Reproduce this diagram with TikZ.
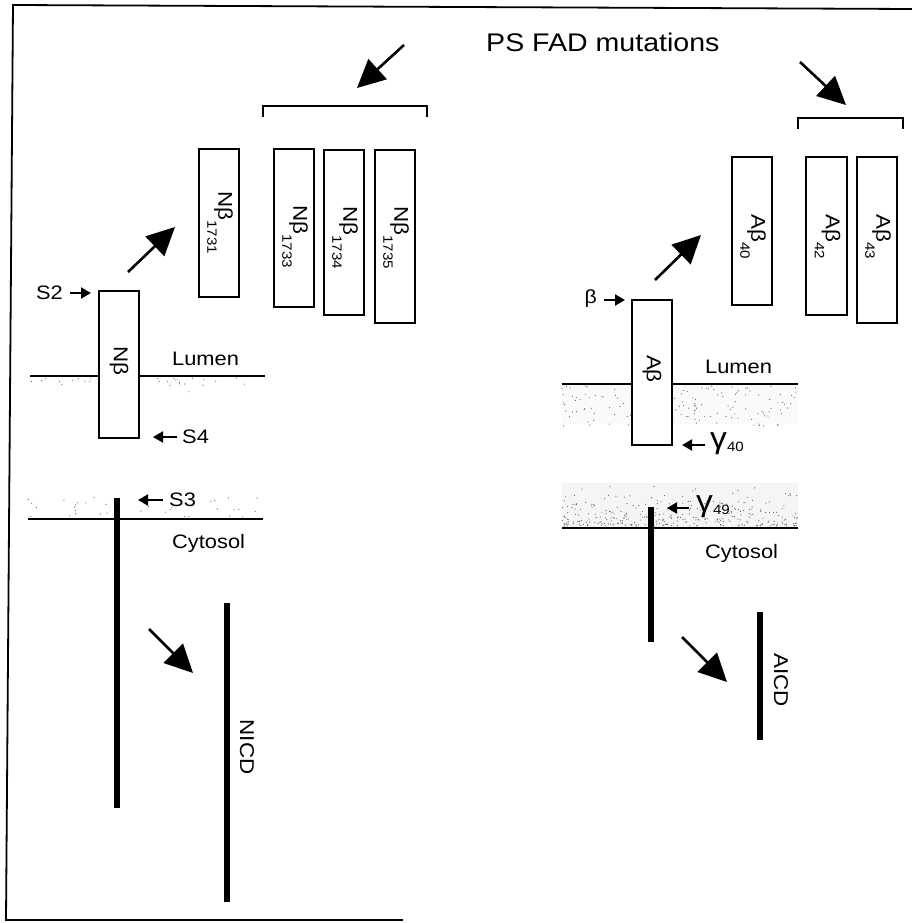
\documentclass[tikz,border=0pt]{standalone}
\usepackage{fontspec}
\setmainfont[FakeStretch=1.12]{Liberation Sans}
\usetikzlibrary{arrows.meta}

\begin{document}
\begin{tikzpicture}[x=1pt,y=-1pt,
  fragbox/.style={draw, fill=white, line width=1.6pt, minimum width=40.5pt, inner sep=0pt},
  fraglabel/.style={rotate=-90, inner sep=0pt, font=\fontsize{20}{20}\selectfont},
  bigarrow/.style={line width=2.6pt, -{Triangle[length=28pt,width=27pt]}},
  tickarrow/.style={line width=2pt, -{Triangle[length=10pt,width=11pt]}},
  lbl/.style={inner sep=0pt, font=\fontsize{19.5}{19.5}\selectfont},
  stub/.style={line width=6pt},
  membrane/.style={line width=2pt},
  bracketline/.style={line width=1.8pt},
  speck/.style={fill=black!60},
]
\newcommand\subnum[1]{\raisebox{-11pt}{\fontsize{13.5}{13.5}\selectfont #1}}
\newcommand\gammasite[1]{{\fontsize{30}{30}\selectfont γ}\raisebox{-3pt}{\fontsize{13.5}{13.5}\selectfont #1}}
\useasboundingbox (0,0) rectangle (912,923);

% outer frame (open on the right)
\draw[line width=1.8pt] (403,920) -- (6,920) -- (13,5) -- (912,9);

% ---------- stippled membrane layers ----------
\fill[black!2] (562,384) rectangle (798,424);
\fill[black!4] (562,483) rectangle (798,528);
\pgfmathsetseed{11}
\foreach \i in {1,...,30} {
  \pgfmathsetmacro\px{30+235*rnd}\pgfmathsetmacro\py{378+18*rnd*rnd}
  \fill[speck] (\px,\py) circle (0.6pt);}
\foreach \i in {1,...,35} {
  \pgfmathsetmacro\px{28+235*rnd}\pgfmathsetmacro\py{517-20*rnd}
  \fill[speck] (\px,\py) circle (0.6pt);}
\foreach \i in {1,...,150} {
  \pgfmathsetmacro\px{562+236*rnd}\pgfmathsetmacro\py{386+40*rnd}
  \fill[speck] (\px,\py) circle (0.6pt);}
\foreach \i in {1,...,320} {
  \pgfmathsetmacro\px{562+236*rnd}\pgfmathsetmacro\py{526-44*rnd*rnd}
  \fill[speck] (\px,\py) circle (0.6pt);}

% membrane borders
\draw[membrane] (30,376) -- (265,376);
\draw[membrane] (28,519) -- (263,519);
\draw[membrane] (562,384) -- (798,384);
\draw[membrane,line width=2.4pt] (562,528) -- (798,528);

% ---------- Notch (left) ----------
\node[fragbox, minimum height=147pt] (nb) at (119,364.5) {};
\node[fraglabel] (nbl) at (119,361) {N\kern-0.5ptβ};

\node[fragbox, minimum height=148pt] (n31) at (219,223) {};
\node[fragbox, minimum height=158pt] (n33) at (294,228) {};
\node[fragbox, minimum height=165pt] (n34) at (344,232.5) {};
\node[fragbox, minimum height=173pt] (n35) at (395,236.5) {};
\node[fraglabel] (n31l) at (220,223) {N\kern-0.5ptβ\subnum{1731}};
\node[fraglabel] (n33l) at (295,237) {N\kern-0.5ptβ\subnum{1733}};
\node[fraglabel] (n34l) at (345,238) {N\kern-0.5ptβ\subnum{1734}};
\node[fraglabel] (n35l) at (396,238) {N\kern-0.5ptβ\subnum{1735}};

\draw[bracketline] (263,117) -- (263,106) -- (427,106) -- (427,117);

\coordinate (la1s) at (404,45);  \coordinate (la1e) at (357,88);
\coordinate (la2s) at (128,272); \coordinate (la2e) at (175,227);
\coordinate (la3s) at (149,629); \coordinate (la3e) at (193,673);
\draw[bigarrow] (la1s) -- (la1e);
\draw[bigarrow] (la2s) -- (la2e);
\draw[bigarrow] (la3s) -- (la3e);

% cleavage sites
\node[lbl, anchor=east] (s2) at (63,293) {S2};
\coordinate (s2a) at (70,293); \coordinate (s2b) at (91,293);
\draw[tickarrow] (s2a) -- (s2b);
\node[lbl, anchor=west] (s4) at (182,437) {S4};
\coordinate (s4a) at (177,437); \coordinate (s4b) at (153,437);
\draw[tickarrow] (s4a) -- (s4b);
\node[lbl, anchor=west] (s3) at (169,500) {S3};
\coordinate (s3a) at (163,500); \coordinate (s3b) at (138,500);
\draw[tickarrow] (s3a) -- (s3b);

\node[lbl, anchor=west] (lumL) at (172,359) {Lumen};
\node[lbl, anchor=west] (cytL) at (172,543) {Cytosol};

% transmembrane stub and released NICD
\coordinate (nstubT) at (117,498); \coordinate (nstubB) at (117,808);
\draw[stub] (nstubT) -- (nstubB);
\coordinate (nicdT) at (227,603); \coordinate (nicdB) at (227,902);
\draw[stub] (nicdT) -- (nicdB);
\node[fraglabel] (nicd) at (247,747) {NICD};

% ---------- APP (right) ----------
\node[lbl, anchor=west, font=\fontsize{25.5}{25.5}\selectfont] (title) at (486,42) {PS FAD mutations};

\node[fragbox, minimum height=145pt] (ab) at (652,372.5) {};
\node[fraglabel] (abl) at (652,369) {A\kern-0.5ptβ};

\node[fragbox, minimum height=148pt] (a40) at (752,231) {};
\node[fragbox, minimum height=158pt] (a42) at (826.5,236) {};
\node[fragbox, minimum height=166pt] (a43) at (877,240) {};
\node[fraglabel] (a40l) at (753,237) {A\kern-0.5ptβ\subnum{40}};
\node[fraglabel] (a42l) at (827.5,237) {A\kern-0.5ptβ\subnum{42}};
\node[fraglabel] (a43l) at (878,237) {A\kern-0.5ptβ\subnum{43}};

\draw[bracketline] (798,129) -- (798,118) -- (903,118) -- (903,129);

\coordinate (ra1s) at (800,62);  \coordinate (ra1e) at (846,105);
\coordinate (ra2s) at (655,280); \coordinate (ra2e) at (701,235);
\coordinate (ra3s) at (682,637); \coordinate (ra3e) at (727,682);
\draw[bigarrow] (ra1s) -- (ra1e);
\draw[bigarrow] (ra2s) -- (ra2e);
\draw[bigarrow] (ra3s) -- (ra3e);

\node[lbl, anchor=east, font=\fontsize{19}{19}\selectfont] (bsite) at (597,299) {β};
\coordinate (ba) at (604,300); \coordinate (bb) at (625,300);
\draw[tickarrow] (ba) -- (bb);
\node[lbl, anchor=west] (g40) at (710,444) {\gammasite{40}};
\coordinate (g40a) at (705,445); \coordinate (g40b) at (682,445);
\draw[tickarrow] (g40a) -- (g40b);
\node[lbl, anchor=west] (g49) at (696,507) {\gammasite{49}};
\coordinate (g49a) at (689,508); \coordinate (g49b) at (667,508);
\draw[tickarrow] (g49a) -- (g49b);

\node[lbl, anchor=west] (lumR) at (705,367) {Lumen};
\node[lbl, anchor=west] (cytR) at (705,553) {Cytosol};

\coordinate (astubT) at (651,507); \coordinate (astubB) at (651,642);
\draw[stub] (astubT) -- (astubB);
\coordinate (aicdT) at (760,612); \coordinate (aicdB) at (760,740);
\draw[stub] (aicdT) -- (aicdB);
\node[fraglabel] (aicd) at (781,680) {AICD};
\end{tikzpicture}
\end{document}
